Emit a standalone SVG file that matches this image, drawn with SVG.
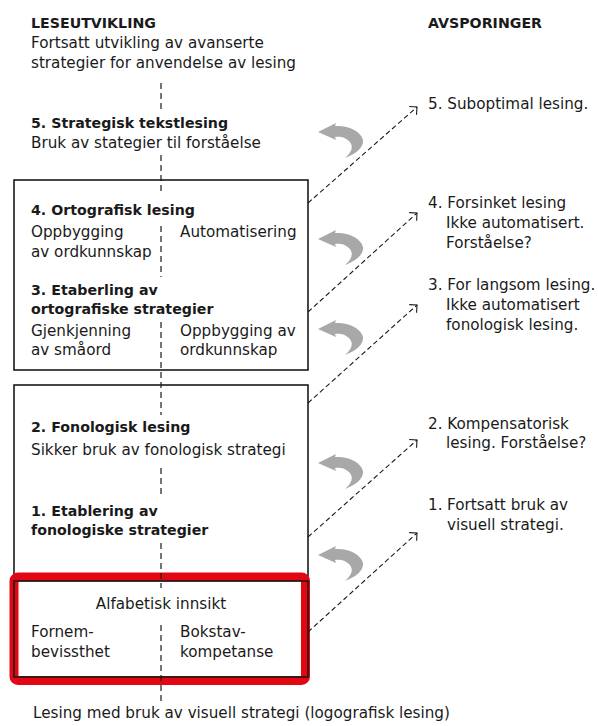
<svg xmlns="http://www.w3.org/2000/svg" width="598" height="726" viewBox="0 0 598 726">
<defs>
<style>
text{font-family:"DejaVu Sans","Noto Sans","Liberation Sans",sans-serif;font-size:15.2px;fill:#1a1a1a}
.b{font-weight:bold;font-size:14.2px}
.box{fill:none;stroke:#1a1a1a;stroke-width:1.6}
.vd{stroke:#1a1a1a;stroke-width:1.2;stroke-dasharray:6 4;fill:none}
.dd{stroke:#1a1a1a;stroke-width:1.1;stroke-dasharray:5 3;fill:none}
.ah{stroke:#1a1a1a;stroke-width:1.1;fill:none;stroke-dasharray:none}
.curl{fill:#a8a8a8}
</style>
<marker id="open" viewBox="-8 -8 10 16" markerWidth="10" markerHeight="16" refX="0" refY="0" orient="auto" markerUnits="userSpaceOnUse">
<path class="ah" d="M-5.5,-5.5 L0,0 L-5.5,5.5"/>
</marker>
<path id="curlshape" d="M0,0 L18,-9 L17,-6 C30,-7 43,-1 45,8 C46,15 38,22 27,26 C34,20 36,14 31,9 C27,5 22,4 17,5 L18,8 Z"/>
</defs>
<rect width="598" height="726" fill="#fff"/>

<g id="header-left">
<text x="31" y="28" class="b">LESEUTVIKLING</text>
<text x="31" y="48">Fortsatt utvikling av avanserte</text>
<text x="31" y="68">strategier for anvendelse av lesing</text>
</g>
<g id="header-right">
<text x="428" y="28" class="b">AVSPORINGER</text>
</g>

<g id="stage5">
<text x="31" y="128" class="b">5. Strategisk tekstlesing</text>
<text x="31" y="148">Bruk av stategier til forståelse</text>
</g>

<g id="box-ortografisk">
<rect class="box" x="14" y="180" width="294" height="190"/>
<text x="31" y="215" class="b">4. Ortografisk lesing</text>
<text x="31" y="237">Oppbygging</text>
<text x="31" y="257">av ordkunnskap</text>
<text x="180" y="237">Automatisering</text>
<text x="31" y="295" class="b">3. Etaberling av</text>
<text x="31" y="314" class="b">ortografiske strategier</text>
<text x="31" y="336">Gjenkjenning</text>
<text x="31" y="355">av småord</text>
<text x="180" y="336">Oppbygging av</text>
<text x="180" y="355">ordkunnskap</text>
</g>

<g id="box-fonologisk">
<rect class="box" x="14" y="385" width="294" height="191"/>
<text x="31" y="432" class="b">2. Fonologisk lesing</text>
<text x="31" y="455">Sikker bruk av fonologisk strategi</text>
<text x="31" y="516" class="b">1. Etablering av</text>
<text x="31" y="535" class="b">fonologiske strategier</text>
</g>

<g id="box-alfabetisk">
<rect x="14" y="577" width="291.5" height="103.5" rx="4" fill="none" stroke="#e30613" stroke-width="9"/>
<rect class="box" x="14" y="581" width="294" height="96"/>
<text x="161" y="609" text-anchor="middle">Alfabetisk innsikt</text>
<text x="31" y="637">Fornem-</text>
<text x="31" y="657">bevissthet</text>
<text x="180" y="637">Bokstav-</text>
<text x="180" y="657">kompetanse</text>
</g>

<g id="bottom-label">
<text x="33" y="718">Lesing med bruk av visuell strategi (logografisk lesing)</text>
</g>

<g id="avsporing-5"><text x="428" y="109">5. Suboptimal lesing.</text></g>
<g id="avsporing-4">
<text x="428" y="208">4. Forsinket lesing</text>
<text x="446" y="228">Ikke automatisert.</text>
<text x="446" y="248">Forståelse?</text>
</g>
<g id="avsporing-3">
<text x="428" y="290">3. For langsom lesing.</text>
<text x="446" y="310">Ikke automatisert</text>
<text x="446" y="330">fonologisk lesing.</text>
</g>
<g id="avsporing-2">
<text x="428" y="429">2. Kompensatorisk</text>
<text x="446" y="448">lesing. Forståelse?</text>
</g>
<g id="avsporing-1">
<text x="428" y="510">1.</text>
<text x="447" y="510">Fortsatt bruk av</text>
<text x="447" y="530">visuell strategi.</text>
</g>

<g id="connectors">
<path class="vd" d="M161,83 V112 M161,155 V195 M161,226 V277 M161,322 V415 M161,468 V498 M161,543 V588 M161,625 V705"/>
<path class="dd" d="M308,203 L417,107" marker-end="url(#open)"/>
<path class="dd" d="M308,312 L417,213" marker-end="url(#open)"/>
<path class="dd" d="M308,403 L417,305" marker-end="url(#open)"/>
<path class="dd" d="M308,537 L417,440" marker-end="url(#open)"/>
<path class="dd" d="M308,632 L417,533" marker-end="url(#open)"/>
<use href="#curlshape" class="curl" x="318" y="132"/>
<use href="#curlshape" class="curl" x="318" y="239"/>
<use href="#curlshape" class="curl" x="318" y="329"/>
<use href="#curlshape" class="curl" x="318" y="463"/>
<use href="#curlshape" class="curl" x="318" y="555"/>
</g>
</svg>
